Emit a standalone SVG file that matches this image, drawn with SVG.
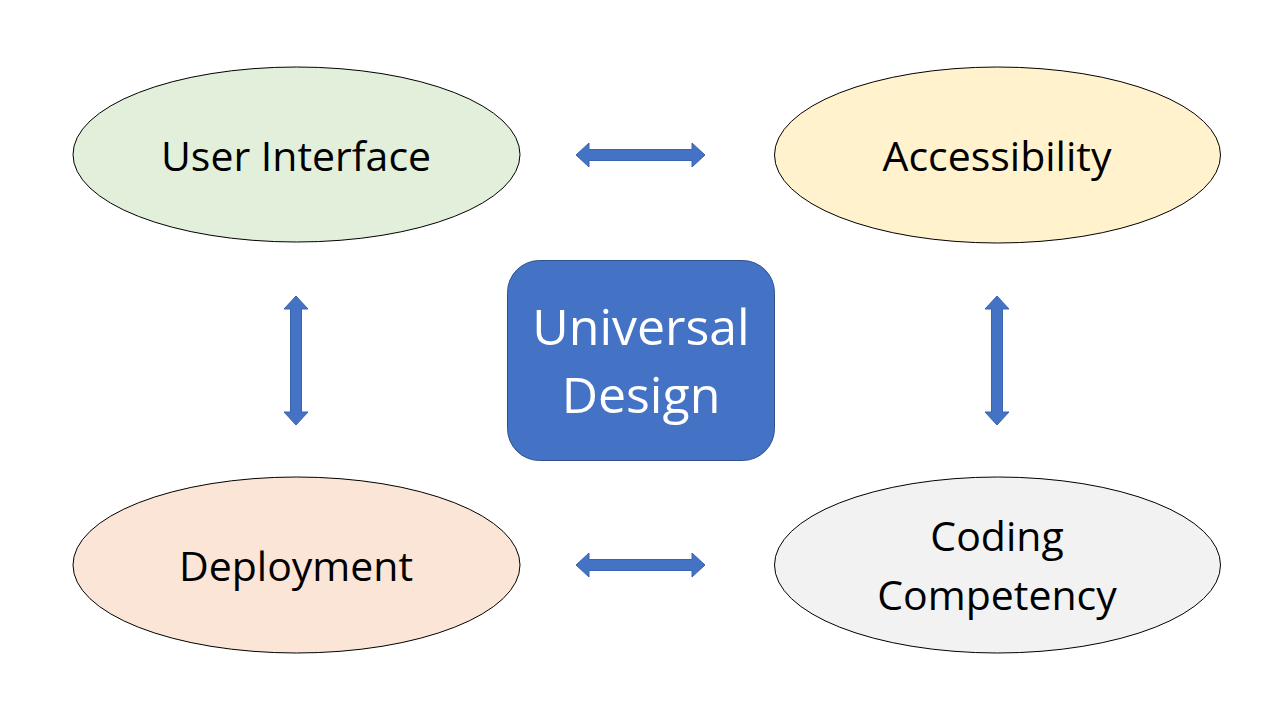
<svg xmlns="http://www.w3.org/2000/svg" xmlns:xlink="http://www.w3.org/1999/xlink" width="1280" height="720" viewBox="0 0 1280 720">
<style>
.node{stroke:#000;stroke-width:1}
.lbl{font-family:"Open Sans","Noto Sans","Liberation Sans",sans-serif;font-size:41px;fill:#000;text-anchor:middle}
.center{font-family:"Open Sans","Noto Sans","Liberation Sans",sans-serif;font-size:50px;fill:#fff;text-anchor:middle}
.arrow{fill:#4472C4;stroke:#3A64AE;stroke-width:1}
</style>
<defs>
<polygon id="harrow" points="0,0 13,-12 13,-5.5 116,-5.5 116,-12 129,0 116,12 116,5.5 13,5.5 13,12"/>
</defs>
<rect width="1280" height="720" fill="#fff"/>
<g id="connectors">
<use xlink:href="#harrow" class="arrow" transform="translate(576,155)"/>
<use xlink:href="#harrow" class="arrow" transform="translate(576,565)"/>
<use xlink:href="#harrow" class="arrow" transform="translate(296,296) rotate(90)"/>
<use xlink:href="#harrow" class="arrow" transform="translate(997,296) rotate(90)"/>
</g>
<g id="user-interface">
<ellipse class="node" cx="296.5" cy="154.5" rx="223.5" ry="87.5" fill="#E2EFDA"/>
<text class="lbl" x="296" y="171">User Interface</text>
</g>
<g id="accessibility">
<ellipse class="node" cx="997.5" cy="155" rx="223" ry="88" fill="#FFF2CC"/>
<text class="lbl" x="997" y="171">Accessibility</text>
</g>
<g id="deployment">
<ellipse class="node" cx="296.5" cy="565" rx="223.5" ry="88" fill="#FBE5D6"/>
<text class="lbl" x="296" y="581">Deployment</text>
</g>
<g id="coding-competency">
<ellipse class="node" cx="997.5" cy="565" rx="223" ry="88" fill="#F2F2F2"/>
<text class="lbl" x="997" y="551">Coding</text>
<text class="lbl" x="997" y="610">Competency</text>
</g>
<g id="universal-design">
<rect x="507.5" y="260.5" width="267" height="200" rx="32" ry="32" fill="#4472C4" stroke="#2F528F" stroke-width="1"/>
<text class="center" x="641" y="345">Universal</text>
<text class="center" x="641" y="413">Design</text>
</g>
</svg>
